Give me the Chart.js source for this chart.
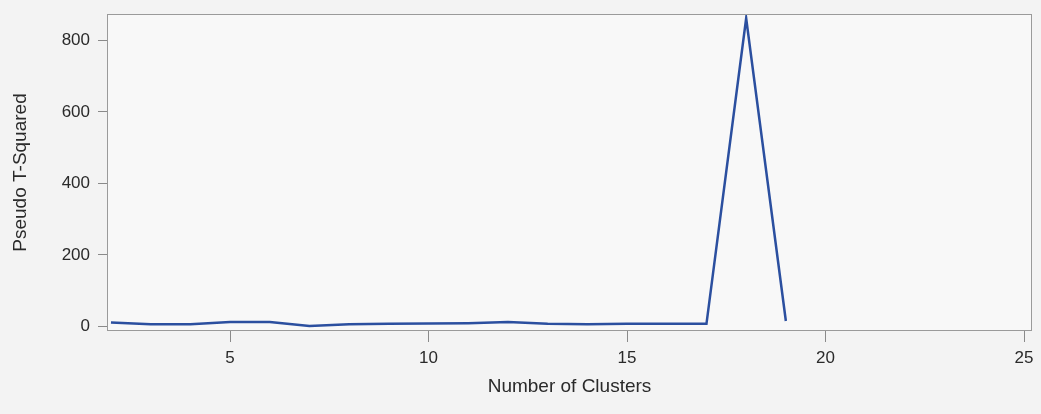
<!DOCTYPE html>
<html>
<head>
<meta charset="utf-8">
<script src="https://cdn.jsdelivr.net/npm/chart.js@4/dist/chart.umd.min.js"></script>
<style>
  html, body { margin: 0; padding: 0; background: #f3f3f3; }
  #wrap { width: 1041px; height: 414px; position: relative; }
</style>
</head>
<body>
<div id="wrap"><canvas id="pst"></canvas></div>
<script>
// Pseudo T-Squared by number of clusters
const clusters = [2, 3, 4, 5, 6, 7, 8, 9, 10, 11, 12, 13, 14, 15, 16, 17, 18, 19];
const pseudoT2 = [11, 6, 6, 12, 12, 1, 6, 7, 8, 9, 12, 7, 6, 7, 7, 7, 862, 15];
const xTicks = [5, 10, 15, 20, 25];
const yTicks = [0, 200, 400, 600, 800];

const frame = {
  id: "frame",
  beforeDatasetsDraw(chart) {
    const a = chart.chartArea, ctx = chart.ctx;
    ctx.save();
    ctx.fillStyle = "#f8f8f8";
    ctx.fillRect(a.left, a.top, a.right - a.left, a.bottom - a.top);
    ctx.restore();
  },
  afterDatasetsDraw(chart) {
    const a = chart.chartArea, ctx = chart.ctx;
    ctx.save();
    ctx.strokeStyle = "#9a9a9a";
    ctx.lineWidth = 1;
    ctx.strokeRect(a.left + 0.5, a.top + 0.5, a.right - a.left - 1, a.bottom - a.top - 1);
    ctx.restore();
  }
};

const family = "'Liberation Sans', Arial, sans-serif";
const tickFont = { family, size: 17 };
const titleFont = { family, size: 19 };

new Chart(document.getElementById("pst"), {
  type: "line",
  data: {
    datasets: [{
      data: clusters.map((c, i) => ({ x: c, y: pseudoT2[i] })),
      borderColor: "#2b4f9f",
      borderWidth: 2.5,
      pointRadius: 0,
      tension: 0,
      fill: false
    }]
  },
  options: {
    responsive: true,
    maintainAspectRatio: false,
    animation: false,
    layout: { padding: { top: 14, right: 9, left: 0, bottom: 0 } },
    plugins: { legend: { display: false }, tooltip: { enabled: false } },
    scales: {
      x: {
        type: "linear",
        min: 1.9,
        max: 25.2,
        afterBuildTicks: s => { s.ticks = xTicks.map(v => ({ value: v })); },
        afterFit: s => { s.height = 83; s.paddingLeft = 0; s.paddingRight = 0; },
        grid: { drawOnChartArea: false, tickLength: 11, color: "#8a8a8a" },
        border: { display: false },
        ticks: { font: tickFont, color: "#2a2a2a", padding: 6 },
        title: {
          display: true,
          text: "Number of Clusters",
          font: titleFont,
          color: "#2a2a2a",
          padding: { top: 0, bottom: 16 }
        }
      },
      y: {
        min: -13,
        max: 874,
        afterBuildTicks: s => { s.ticks = yTicks.map(v => ({ value: v })); },
        afterFit: s => { s.width = 107; s.paddingTop = 0; s.paddingBottom = 0; },
        grid: { drawOnChartArea: false, tickLength: 9, color: "#8a8a8a" },
        border: { display: false },
        ticks: { font: tickFont, color: "#2a2a2a", padding: 8 },
        title: {
          display: true,
          text: "Pseudo T-Squared",
          font: titleFont,
          color: "#2a2a2a",
          padding: { top: 9, bottom: 0 }
        }
      }
    }
  },
  plugins: [frame]
});
</script>
</body>
</html>
